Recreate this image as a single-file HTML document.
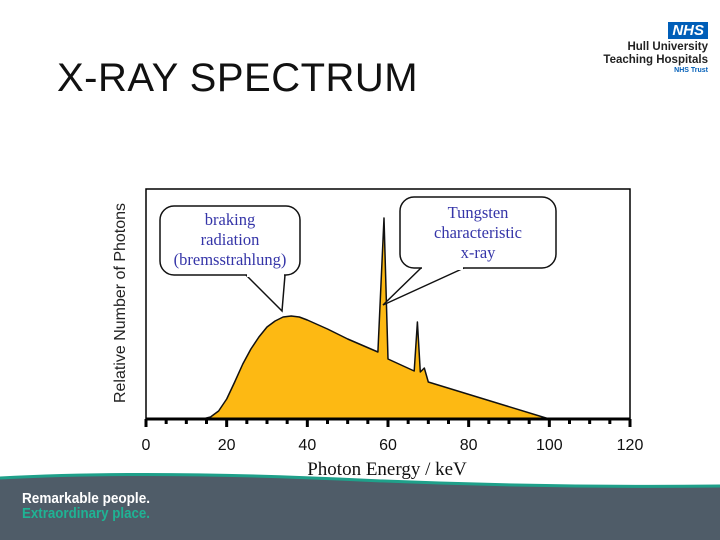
<!DOCTYPE html>
<html><head><meta charset="utf-8"><style>
body{margin:0;width:720px;height:540px;overflow:hidden;background:#fff;font-family:"Liberation Sans",sans-serif;position:relative}
#title{position:absolute;left:57px;top:56px;font-size:40px;color:#111;letter-spacing:0.5px}
.logo{position:absolute;text-align:right;right:12px;top:22px;color:#222;font-weight:bold}
</style></head><body>
<div id="title">X-RAY SPECTRUM</div>
<div class="logo">
<div style="display:inline-block;background:#005eb8;color:#fff;font-style:italic;font-size:15px;padding:0 4px;line-height:17px">NHS</div>
<div style="font-size:11.5px;line-height:13px;margin-top:1px">Hull University<br>Teaching Hospitals</div>
<div style="font-size:7px;color:#005eb8">NHS Trust</div></div>
<svg id="chart" width="720" height="540" style="position:absolute;left:0;top:0"></svg>
<script>
const energies=[14,16,18,20,22,24,26,28,30,32,34,36,38,40,45,50,57.5,59,60,66.5,67.3,68,69,70,100];
const counts=[0,2,8,20,37,55,70,82,92,98,102,103,102,99,90,80,67,201,60,48,97,47,51,37,0];
const xTicks=[0,20,40,60,80,100,120];
const NS="http://www.w3.org/2000/svg";
const svg=document.getElementById('chart');
const L=146,R=630,T=189,B=419;
const xs=v=>L+(v-0)/120*(R-L);
const ys=v=>B-v/230*(B-T);
function mk(t,a,p){const e=document.createElementNS(NS,t);for(const k in a)e.setAttribute(k,a[k]);(p||svg).appendChild(e);return e;}
// footer
let f=mk('path',{d:'M0,478 Q150,470 360,480 Q540,488 720,486 L720,540 L0,540Z',fill:'#4f5c68'});

let w=mk('path',{d:'M0,478 Q150,470 360,480 Q540,488 720,486',fill:'none',stroke:'#1fa08a','stroke-width':3});

let t1=mk('text',{x:22,y:503,fill:'#fff','font-size':15,'font-weight':'bold','textLength':128,'lengthAdjust':'spacingAndGlyphs'});t1.textContent='Remarkable people.';

let t2=mk('text',{x:22,y:518,fill:'#1fb394','font-size':15,'font-weight':'bold','textLength':128,'lengthAdjust':'spacingAndGlyphs'});t2.textContent='Extraordinary place.';

// frame
let fr=mk('rect',{x:L,y:T,width:R-L,height:B-T,fill:'none',stroke:'#000','stroke-width':1.5});

// area
let d='M'+xs(energies[0])+','+ys(counts[0]);
for(let i=1;i<energies.length;i++)d+=' L'+xs(energies[i]).toFixed(1)+','+ys(counts[i]).toFixed(1);
d+='Z';
let ar=mk('path',{d:d,fill:'#fdb913',stroke:'#111','stroke-width':1.5,'stroke-linejoin':'round'});

// axis
let ax=mk('line',{x1:L,y1:B,x2:R,y2:B,stroke:'#000','stroke-width':3});

for(let v=0;v<=120;v+=5){let tk=mk('line',{x1:xs(v),y1:B,x2:xs(v),y2:B+(v%20==0?8:5),stroke:'#000','stroke-width':3});
}
xTicks.forEach(v=>{let tl=mk('text',{x:xs(v),y:450,'text-anchor':'middle','font-size':16,fill:'#111'});tl.textContent=v;
});
let xt=mk('text',{x:387,y:475,'text-anchor':'middle','font-size':19,'font-family':'Liberation Serif, serif',fill:'#111'});xt.textContent='Photon Energy / keV';

let yt=mk('text',{x:0,y:0,'text-anchor':'middle','font-size':16,fill:'#222',transform:'translate(125,303) rotate(-90)'});yt.textContent='Relative Number of Photons';

// callouts
function callout(name,x,y,wd,h,px1,px2,tx,ty,lines,tyStart){
 let g=mk('g',{});
 mk('path',{d:`M${px1},${y+h} L${tx},${ty} L${px2},${y+h}`,fill:'#fff',stroke:'#111','stroke-width':1.5},g);
 mk('rect',{x:x,y:y,width:wd,height:h,rx:14,fill:'#fff',stroke:'#111','stroke-width':1.5},g);
 mk('rect',{x:Math.min(px1,px2)+1,y:y+h-3,width:Math.abs(px2-px1)-2,height:5,fill:'#fff'},g);
 lines.forEach((s,i)=>{let e=mk('text',{x:x+wd/2,y:tyStart+i*20,'text-anchor':'middle','font-size':16.5,'font-family':'Liberation Serif, serif',fill:'#3535a8'},g);e.textContent=s;});
}
callout('bremsstrahlung-callout',160,206,140,69,246,285,282,311,['braking','radiation','(bremsstrahlung)'],225);
callout('tungsten-callout',400,197,156,71,421,464,383,305,['Tungsten','characteristic','x-ray'],218);
</script>
</body></html>
